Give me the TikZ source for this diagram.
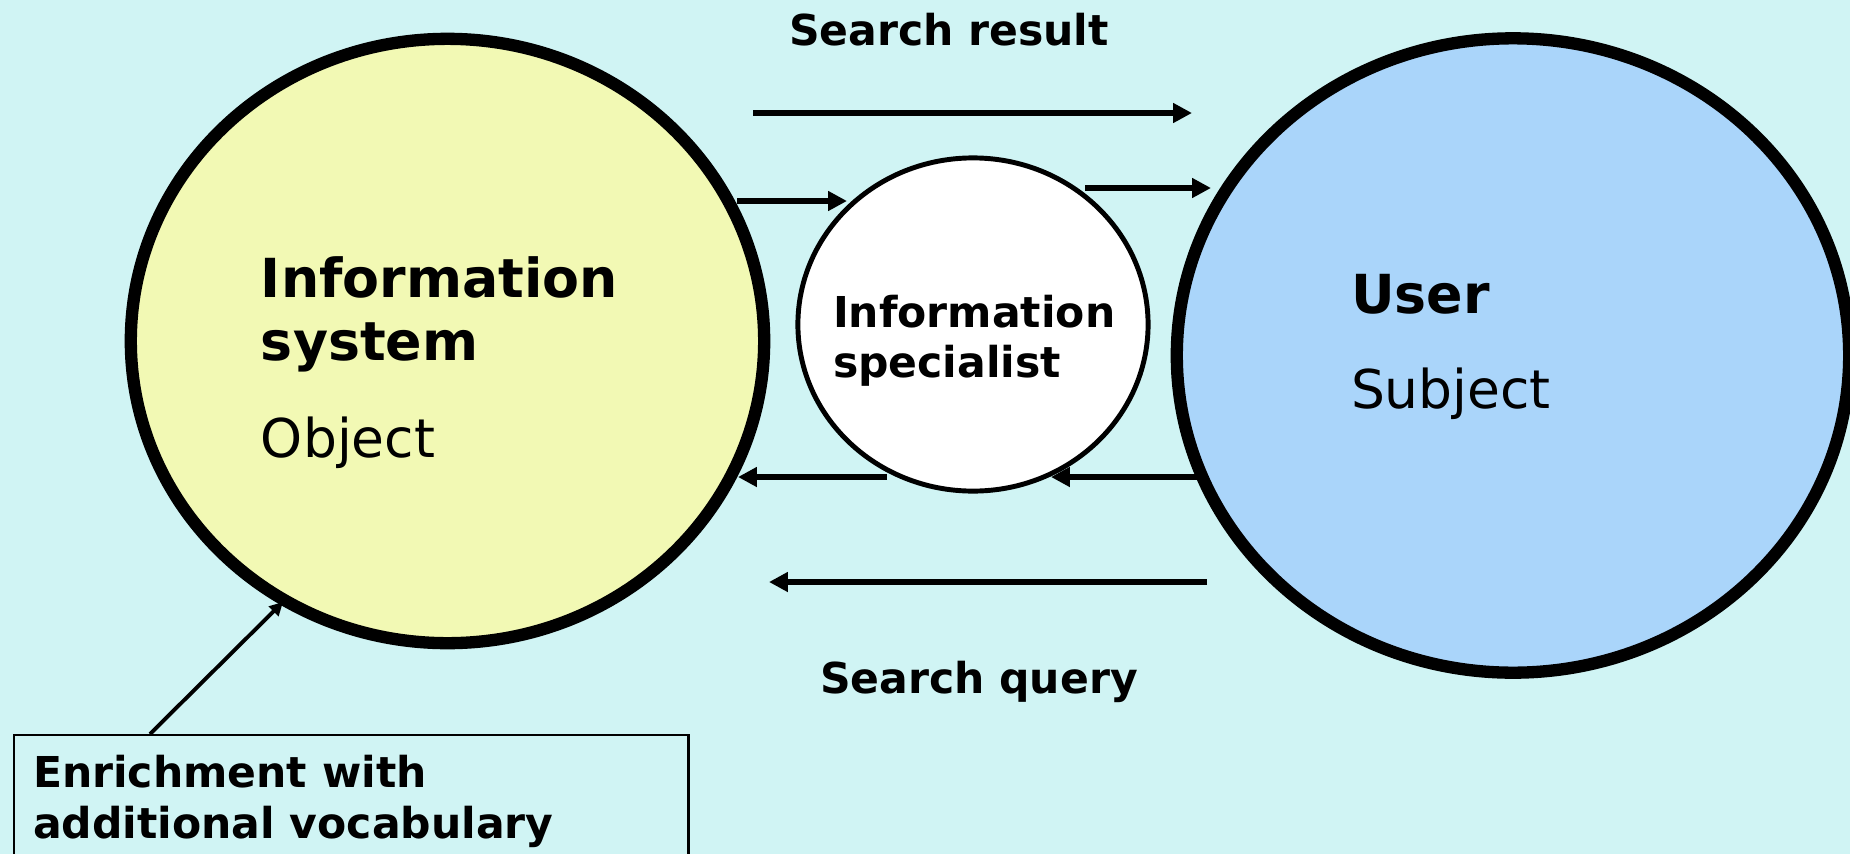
\documentclass[tikz,border=0pt]{standalone}
\usepackage{fontspec}
\setmainfont{DejaVu Sans}
\usetikzlibrary{shapes.geometric,arrows.meta}
\definecolor{bgc}{HTML}{D0F4F4}
\definecolor{yel}{HTML}{F2F9B4}
\definecolor{blu}{HTML}{AAD5FA}
\begin{document}
\begin{tikzpicture}[x=0.01cm,y=-0.01cm,
  bigell/.style={ellipse, draw=black, line width=3.5pt, inner sep=0pt},
  lbl/.style={anchor=base west, inner sep=0pt, outer sep=0pt},
  bigb/.style={lbl, font=\fontsize{15.3}{18}\selectfont\bfseries},
  bigr/.style={lbl, font=\fontsize{15.2}{18}\selectfont},
  midb/.style={lbl, font=\fontsize{12.1}{14}\selectfont\bfseries},
  arr/.style={line width=1.7pt, -{Triangle[length=5.4pt,width=5.4pt]}},
  thinarr/.style={line width=1.1pt, -{Triangle[length=3.8pt,width=3.8pt]}}]
\fill[bgc] (0,0) rectangle (1850,854);
\useasboundingbox (0,0) rectangle (1850,854);

% main shapes
\node[bigell, fill=yel, minimum width=6.33cm, minimum height=6.04cm] (sys) at (447.5,341) {};
\node[bigell, fill=blu, minimum width=6.72cm, minimum height=6.34cm] (user) at (1513,355.5) {};
\node[ellipse, draw=black, fill=white, line width=1.4pt, inner sep=0pt,
      minimum width=3.50cm, minimum height=3.33cm] (spec) at (973,324.5) {};
\node[draw=black, line width=0.6pt, anchor=north west, inner sep=0pt,
      minimum width=6.74cm, minimum height=1.5cm] (enr) at (13,734) {};

% texts
\node[bigb] (t1) at (261,297) {Information};
\node[bigb] (t2) at (261,360) {system};
\node[bigr] (t3) at (261,457) {Object};
\node[midb] (t4) at (833,327) {Information};
\node[midb] (t5) at (833,377) {specialist};
\node[bigb] (t6) at (1351,313) {User};
\node[bigr] (t7) at (1351,408) {Subject};
\node[midb] (t8) at (789,45) {Search result};
\node[midb] (t9) at (820,693) {Search query};
\node[midb] (t10) at (33,787) {Enrichment with};
\node[midb] (t11) at (33,838) {additional vocabulary};

% connector end points
\coordinate (r1a) at (753,113);  \coordinate (r1b) at (1192,113);
\coordinate (s1a) at (737,201);  \coordinate (s1b) at (847,201);
\coordinate (s2a) at (1085,188); \coordinate (s2b) at (1211,188);
\coordinate (q1a) at (887,477);  \coordinate (q1b) at (738,477);
\coordinate (q2a) at (1198,477); \coordinate (q2b) at (1051,477);
\coordinate (q3a) at (1207,582); \coordinate (q3b) at (769,582);
\coordinate (ea) at (150,734);   \coordinate (eb) at (283,602);

\draw[arr] (r1a) -- (r1b);
\draw[arr] (s1a) -- (s1b);
\draw[arr] (s2a) -- (s2b);
\draw[arr] (q1a) -- (q1b);
\draw[arr] (q2a) -- (q2b);
\draw[arr] (q3a) -- (q3b);
\draw[thinarr] (ea) -- (eb);
\end{tikzpicture}
\end{document}
